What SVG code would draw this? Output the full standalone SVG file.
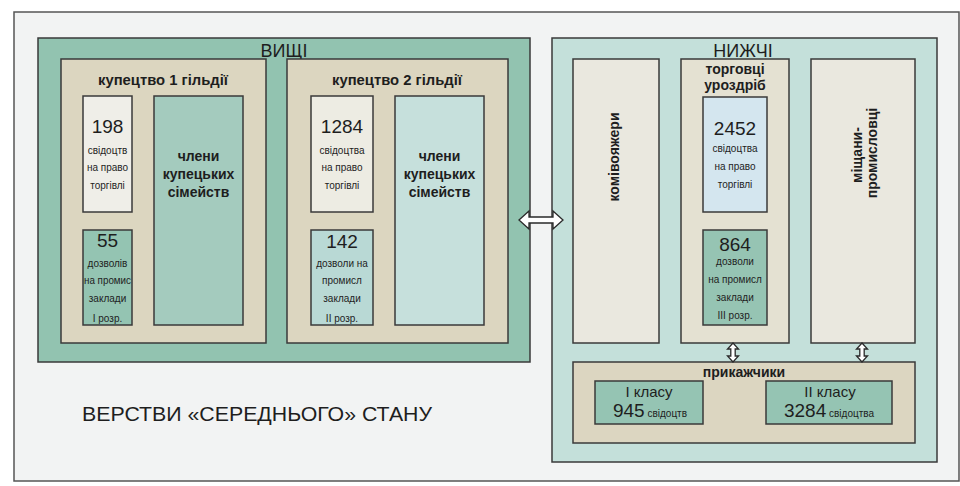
<svg xmlns="http://www.w3.org/2000/svg" width="960" height="486" viewBox="0 0 960 486">
<style>
.bx{stroke:#3a3a3a;stroke-width:1.5}
.t{font-family:"Liberation Sans",Arial,sans-serif;fill:#1e1e1e}
.b{font-weight:bold}
.m{text-anchor:middle}
.num{font-size:19px}
.sm{font-size:10px}
.hd{font-size:18px}
.ti{font-size:14px;font-weight:bold}
.gt{font-size:14.8px;font-weight:bold}
.arr{fill:#ffffff;stroke:#2a2a2a;stroke-width:1.3}
</style>
<defs>
<path id="varr" d="M0,0 L5.5,6 L2.2,6 L2.2,13 L5.5,13 L0,19 L-5.5,13 L-2.2,13 L-2.2,6 L-5.5,6 Z"/>
</defs>
<rect width="960" height="486" fill="#ffffff"/>
<rect x="14" y="12" width="945" height="469" fill="#f2f3f3" stroke="#555" stroke-width="1.5"/>

<g id="upper">
<rect class="bx" x="38" y="38" width="492" height="324" fill="#92c3b0" stroke-width="2"/>
<text class="t m hd" x="284" y="57">ВИЩІ</text>
</g>

<g id="guild1">
<rect class="bx" x="61" y="59" width="205" height="284" fill="#dcd6c0"/>
<text class="t m gt" x="163" y="85">купецтво 1 гільдії</text>
</g>
<g id="g1-cert">
<rect class="bx" x="83" y="96" width="49" height="116" fill="#efeee8"/>
<text class="t m num" x="107.5" y="133">198</text>
<text class="t m sm" x="107.5" y="154">свідоцтв</text>
<text class="t m sm" x="107.5" y="171">на право</text>
<text class="t m sm" x="107.5" y="189">торгівлі</text>
</g>
<g id="g1-perm">
<rect class="bx" x="83" y="230" width="49" height="95" fill="#94c4b2"/>
<text class="t m num" x="107.5" y="247">55</text>
<text class="t m sm" x="107.5" y="267">дозволів</text>
<text class="t m sm" x="107.5" y="284" textLength="47" lengthAdjust="spacingAndGlyphs">на промис</text>
<text class="t m sm" x="107.5" y="302">заклади</text>
<text class="t m sm" x="107.5" y="322">І розр.</text>
</g>
<g id="g1-family">
<rect class="bx" x="154" y="96" width="89" height="229" fill="#a4cbbe"/>
<text class="t m ti" x="198.5" y="161">члени</text>
<text class="t m ti" x="198.5" y="179">купецьких</text>
<text class="t m ti" x="198.5" y="197">сімейств</text>
</g>

<g id="guild2">
<rect class="bx" x="287" y="59" width="221" height="284" fill="#dcd6c0"/>
<text class="t m gt" x="397" y="85">купецтво 2 гільдії</text>
</g>
<g id="g2-cert">
<rect class="bx" x="311" y="96" width="62" height="116" fill="#edece3"/>
<text class="t m num" x="342" y="133">1284</text>
<text class="t m sm" x="342" y="154">свідоцтва</text>
<text class="t m sm" x="342" y="171">на право</text>
<text class="t m sm" x="342" y="189">торгівлі</text>
</g>
<g id="g2-perm">
<rect class="bx" x="311" y="230" width="62" height="95" fill="#b9d9d5"/>
<text class="t m num" x="342" y="248">142</text>
<text class="t m sm" x="342" y="267">дозволи на</text>
<text class="t m sm" x="342" y="284">промисл</text>
<text class="t m sm" x="342" y="302">заклади</text>
<text class="t m sm" x="342" y="322">ІІ розр.</text>
</g>
<g id="g2-family">
<rect class="bx" x="395" y="96" width="89" height="229" fill="#c6e0dc"/>
<text class="t m ti" x="439.5" y="161">члени</text>
<text class="t m ti" x="439.5" y="179">купецьких</text>
<text class="t m ti" x="439.5" y="197">сімейств</text>
</g>

<g id="lower">
<rect class="bx" x="552" y="38" width="385" height="424" fill="#c4e0da" stroke-width="2"/>
<text class="t m hd" x="743" y="57">НИЖЧІ</text>
</g>

<g id="travellers">
<rect class="bx" x="573" y="59" width="86" height="284" fill="#eae8df"/>
<text class="t m ti" transform="rotate(-90 619 157)" x="619" y="157">комівояжери</text>
</g>

<g id="retail">
<rect class="bx" x="681" y="59" width="108" height="284" fill="#e4e1d2"/>
<text class="t m ti" x="735" y="74">торговці</text>
<text class="t m ti" x="735" y="90">уроздріб</text>
</g>
<g id="r-cert">
<rect class="bx" x="703" y="97" width="64" height="115" fill="#d4e6ef"/>
<text class="t m num" x="735" y="135">2452</text>
<text class="t m sm" x="735" y="152">свідоцтва</text>
<text class="t m sm" x="735" y="170">на право</text>
<text class="t m sm" x="735" y="188">торгівлі</text>
</g>
<g id="r-perm">
<rect class="bx" x="703" y="230" width="64" height="95" fill="#96c4b3"/>
<text class="t m num" x="735" y="251">864</text>
<text class="t m sm" x="735" y="265">дозволи</text>
<text class="t m sm" x="735" y="283">на промисл</text>
<text class="t m sm" x="735" y="301">заклади</text>
<text class="t m sm" x="735" y="319">ІІІ розр.</text>
</g>

<g id="artisans">
<rect class="bx" x="811" y="59" width="104" height="284" fill="#eae8df"/>
<text class="t m ti" transform="rotate(-90 862 155)" x="862" y="155">міщани-</text>
<text class="t m ti" transform="rotate(-90 877 153)" x="877" y="153">промисловці</text>
</g>

<g id="clerks">
<rect class="bx" x="573" y="362" width="342" height="81" fill="#dcd6c1"/>
<text class="t m ti" x="744" y="377">прикажчики</text>
</g>
<g id="clerks1">
<rect class="bx" x="595" y="381" width="108" height="43" fill="#95c4b3"/>
<text class="t m" x="649" y="397" font-size="15">І класу</text>
<text class="t m" x="650" y="417"><tspan font-size="19">945</tspan><tspan font-size="10"> свідоцтв</tspan></text>
</g>
<g id="clerks2">
<rect class="bx" x="766" y="381" width="126" height="43" fill="#95c4b3"/>
<text class="t m" x="830" y="397" font-size="15">ІІ класу</text>
<text class="t m" x="829" y="417"><tspan font-size="19">3284</tspan><tspan font-size="10"> свідоцтва</tspan></text>
</g>

<g id="connectors">
<path class="arr" d="M519,220 L529,211 L529,217 L553,217 L553,211 L563,220 L553,229 L553,223 L529,223 L529,229 Z"/>
<use href="#varr" class="arr" x="733" y="343"/>
<use href="#varr" class="arr" x="862" y="343"/>
</g>

<text id="caption" class="t" x="82" y="421" font-size="21" textLength="350" lengthAdjust="spacingAndGlyphs">ВЕРСТВИ «СЕРЕДНЬОГО» СТАНУ</text>
</svg>
